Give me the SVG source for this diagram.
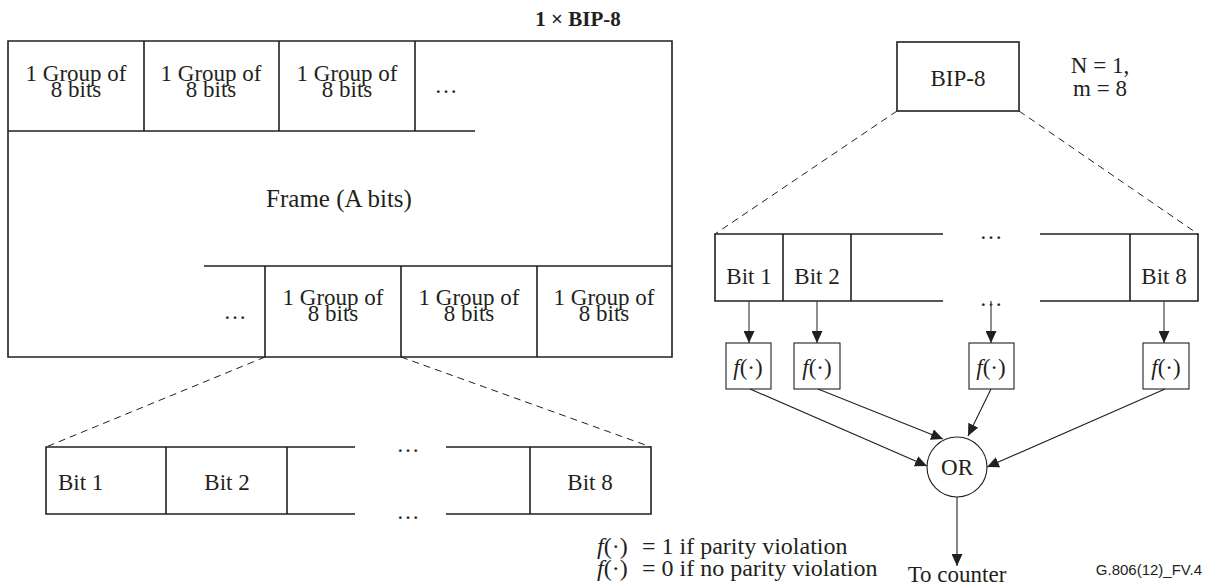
<svg xmlns="http://www.w3.org/2000/svg" width="1212" height="587" viewBox="0 0 1212 587">
<style>
.ln{fill:none;stroke:#231f20;stroke-width:1.6}
.th{fill:none;stroke:#231f20;stroke-width:1.1}
.ar{fill:none;stroke:#444;stroke-width:1.2}
.ds{fill:none;stroke:#231f20;stroke-width:1;stroke-dasharray:7 5}
text{font-family:"Liberation Serif","Times New Roman",serif;font-size:23px;fill:#231f20}
.c{text-anchor:middle}
.b{font-weight:bold;font-size:21px}
.s{font-family:"Liberation Sans",Arial,sans-serif;font-size:15px}
.i{font-style:italic}
.fr{font-size:25px}
.lg{font-size:24px}
</style>
<defs>
<marker id="ah" viewBox="0 0 12 11" refX="12" refY="5.5" markerWidth="12" markerHeight="11" markerUnits="userSpaceOnUse" orient="auto">
<path d="M0,0 L12,5.5 L0,11 Z" fill="#231f20"/>
</marker>
</defs>
<rect width="1212" height="587" fill="#fff"/>

<text id="title" class="c b" x="578" y="26">1 × BIP-8</text>

<g id="frame">
<path class="ln" d="M8,41 H672 V357 H8 Z"/>
<path class="ln" d="M8,131 H475 M144,41 V131 M279,41 V131 M415,41 V131"/>
<path class="ln" d="M204,266 H672 M265,266 V357 M401,266 V357 M537,266 V357"/>
<text class="c" x="76" y="81">1 Group of</text><text class="c" x="76" y="97">8 bits</text>
<text class="c" x="211" y="81">1 Group of</text><text class="c" x="211" y="97">8 bits</text>
<text class="c" x="347" y="81">1 Group of</text><text class="c" x="347" y="97">8 bits</text>
<text class="c" x="446" y="93">…</text>
<text class="c fr" x="339" y="207">Frame (A bits)</text>
<text class="c" x="235" y="319">…</text>
<text class="c" x="333" y="305">1 Group of</text><text class="c" x="333" y="321">8 bits</text>
<text class="c" x="469" y="305">1 Group of</text><text class="c" x="469" y="321">8 bits</text>
<text class="c" x="604" y="305">1 Group of</text><text class="c" x="604" y="321">8 bits</text>
</g>

<g id="bits-left">
<path class="ln" d="M355,447 H46 V514 H355 M446,447 H651 V514 H446 M166,447 V514 M287,447 V514 M530,447 V514"/>
<text x="58" y="490">Bit 1</text>
<text class="c" x="227" y="490">Bit 2</text>
<text class="c" x="590" y="490">Bit 8</text>
<text class="c" x="408" y="452">…</text>
<text class="c" x="408" y="519">…</text>
</g>

<g id="bip8">
<rect class="ln" x="897" y="42" width="122" height="69"/>
<text class="c" x="958" y="86">BIP-8</text>
</g>
<text id="nm1" class="c" x="1100" y="73">N = 1,</text>
<text id="nm2" class="c" x="1100" y="96">m = 8</text>

<g id="bits-right">
<path class="ln" d="M943,234 H715 V301 H943 M1040,234 H1198 V301 H1040 M783,234 V301 M851,234 V301 M1130,234 V301"/>
<text class="c" x="749" y="284">Bit 1</text>
<text class="c" x="817" y="284">Bit 2</text>
<text class="c" x="1164" y="284">Bit 8</text>
<text class="c" x="991" y="239">…</text>
<text class="c" x="991" y="306">…</text>
</g>

<g id="f1"><rect class="th" x="726" y="343" width="45" height="46"/><text class="c" x="748" y="375"><tspan class="i">f</tspan>(·)</text></g>
<g id="f2"><rect class="th" x="794" y="343" width="46" height="46"/><text class="c" x="817" y="375"><tspan class="i">f</tspan>(·)</text></g>
<g id="f3"><rect class="th" x="969" y="343" width="45" height="46"/><text class="c" x="991" y="375"><tspan class="i">f</tspan>(·)</text></g>
<g id="f4"><rect class="th" x="1143" y="343" width="46" height="46"/><text class="c" x="1166" y="375"><tspan class="i">f</tspan>(·)</text></g>

<g id="or"><circle class="th" cx="957" cy="467" r="30"/><text class="c" x="957" y="475">OR</text></g>

<g id="connectors">
<path class="ds" d="M265,357 L46,447 M401,357 L651,447"/>
<path class="ds" d="M897,111 L715,234 M1019,111 L1198,234"/>
<path class="ar" marker-end="url(#ah)" d="M749,301 V343"/>
<path class="ar" marker-end="url(#ah)" d="M817,301 V343"/>
<path class="ar" marker-end="url(#ah)" d="M991,301 V343"/>
<path class="ar" marker-end="url(#ah)" d="M1164,301 V343"/>
<path class="th" marker-end="url(#ah)" d="M750,389 L927,466"/>
<path class="th" marker-end="url(#ah)" d="M818,389 L943,439"/>
<path class="th" marker-end="url(#ah)" d="M991,389 L968,436"/>
<path class="th" marker-end="url(#ah)" d="M1165,389 L987,467"/>
<path class="th" marker-end="url(#ah)" d="M957,497 V566"/>
</g>

<text id="tocounter" class="c" x="957" y="582">To counter</text>
<g id="legend">
<text class="lg" x="597" y="554"><tspan class="i">f</tspan>(·)</text><text class="lg" x="642" y="554">= 1 if parity violation</text>
<text class="lg" x="597" y="576"><tspan class="i">f</tspan>(·)</text><text class="lg" x="642" y="576">= 0 if no parity violation</text>
</g>
<text id="ref" class="s" x="1202" y="575" text-anchor="end">G.806(12)_FV.4</text>
</svg>
